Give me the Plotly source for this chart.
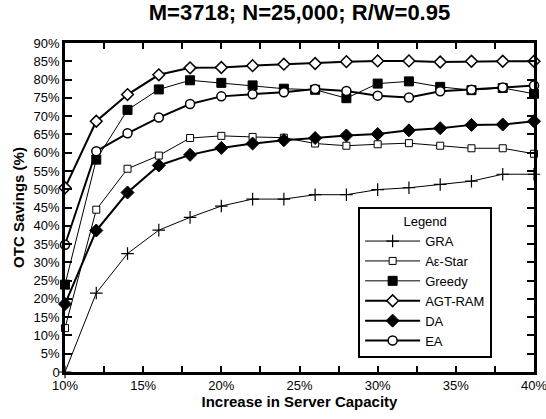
import plotly.graph_objects as go

capacity = [10, 12, 14, 16, 18, 20, 22, 24, 26, 28, 30, 32, 34, 36, 38, 40]
gra = [0, 21.6, 32.4, 38.8, 42.3, 45.4, 47.3, 47.3, 48.5, 48.5, 49.9, 50.4, 51.3, 52.2, 54.1, 54.1]
aestar = [12.0, 44.4, 55.6, 59.2, 64.0, 64.6, 64.3, 64.1, 62.5, 61.9, 62.3, 62.6, 61.9, 61.2, 61.2, 59.7]
greedy = [23.9, 58.1, 71.7, 77.3, 79.8, 79.1, 78.4, 77.5, 77.2, 74.9, 78.9, 79.5, 78.0, 77.1, 77.7, 76.1]
agtram = [50.4, 68.6, 75.9, 81.3, 83.2, 83.3, 83.8, 84.2, 84.4, 84.9, 85.1, 85.1, 84.8, 85.0, 85.0, 85.0]
da = [18.6, 38.7, 49.1, 56.5, 59.4, 61.3, 62.5, 63.4, 64.0, 64.7, 65.1, 66.1, 66.7, 67.6, 67.7, 68.6]
ea = [34.8, 60.4, 65.3, 69.6, 73.3, 75.4, 76.0, 76.5, 77.4, 76.9, 75.6, 75.1, 76.8, 77.2, 77.8, 78.4]

# name, values, symbol, size, fill, line width, marker line width
series = [
    ("GRA", gra, "cross-thin", 9, "black", 1, 1.2),
    ("A\u03b5-Star", aestar, "square", 7, "white", 1, 1.0),
    ("Greedy", greedy, "square", 9, "black", 1, 1.0),
    ("AGT-RAM", agtram, "diamond", 9, "white", 2, 1.5),
    ("DA", da, "diamond", 10, "black", 2, 1.0),
    ("EA", ea, "circle", 9, "white", 2, 1.5),
]

fig = go.Figure()
for name, vals, sym, size, fill, lw, mlw in series:
    fig.add_trace(go.Scatter(
        x=capacity, y=vals, name=name, mode="lines+markers",
        line=dict(color="black", width=lw),
        marker=dict(symbol=sym, size=size, color=fill,
                    line=dict(color="black", width=mlw)),
        cliponaxis=False,
    ))

font_family = "Liberation Sans, Arial, sans-serif"
yticks = list(range(0, 95, 5))
ytext = ["0"] + [f"{v}%" for v in yticks[1:]]
xmajor = [10, 15, 20, 25, 30, 35, 40]
xtext = [f"{v}%" for v in xmajor]

fig.update_layout(
    width=546, height=419,
    margin=dict(l=65, r=12, t=43, b=47, autoexpand=False),
    paper_bgcolor="white", plot_bgcolor="white",
    font=dict(family=font_family, color="black", size=13),
    title=dict(text="<b>M=3718; N=25,000; R/W=0.95</b>", x=0.5485, xanchor="center",
               y=0.99, yanchor="top", font=dict(size=22)),
    xaxis=dict(range=[10, 40], tickvals=xmajor, ticktext=xtext, automargin=False,
               ticklabeloverflow="allow",
               ticks="inside", ticklen=6, tickwidth=1.5, tickcolor="black", mirror="ticks",
               minor=dict(dtick=2.5, tick0=10, ticks="inside", ticklen=6, tickwidth=1.5, tickcolor="black"),
               showline=True, linewidth=2.5, linecolor="black",
               showgrid=False, zeroline=False,
               title=dict(text="<b>Increase in Server Capacity</b>", font=dict(size=15), standoff=2)),
    yaxis=dict(range=[0, 90], tickvals=yticks, ticktext=ytext, automargin=False,
               ticklabeloverflow="allow",
               ticks="inside", ticklen=7, tickwidth=1.5, tickcolor="black", mirror="ticks",
               showline=True, linewidth=2.5, linecolor="black", showgrid=False, zeroline=False,
               title=dict(text="<b>OTC Savings (%)</b>", font=dict(size=15), standoff=6)),
    legend=dict(x=0.625, y=0.042, xanchor="left", yanchor="bottom",
                bgcolor="white", bordercolor="black", borderwidth=2,
                font=dict(size=13), itemwidth=55, tracegroupgap=0,
                title=dict(text="Legend", side="top center", font=dict(size=13))),
)

# remove the default page margin so the 546x419 figure fills the window exactly
fig.write_html("out.html", config={"displayModeBar": False},
               post_script="document.body.style.margin='0';document.body.style.overflow='hidden';")
